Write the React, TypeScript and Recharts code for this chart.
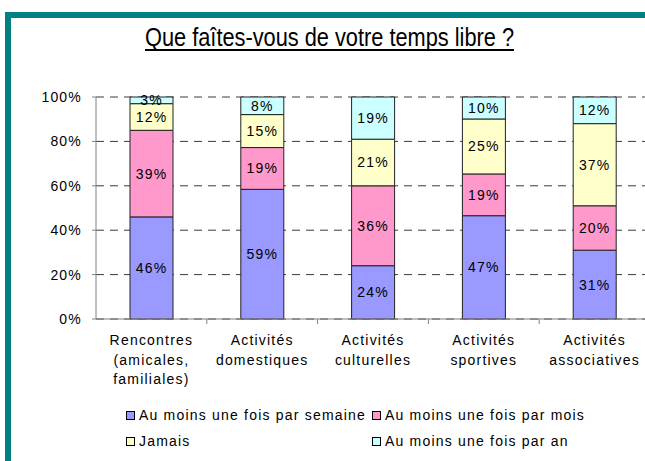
import React from 'react'
import { BarChart, Bar, XAxis, YAxis, CartesianGrid, LabelList } from 'recharts'

// Categories (line breaks as in the original axis labels)
const categories = [
  'Rencontres\n(amicales,\nfamiliales)',
  'Activités\ndomestiques',
  'Activités\nculturelles',
  'Activités\nsportives',
  'Activités\nassociatives',
]

// Values in % as printed on the bars
const semaine = [46, 59, 24, 47, 31]
const mois = [39, 19, 36, 19, 20]
const jamais = [12, 15, 21, 25, 37]
const an = [3, 8, 19, 10, 12]

const yTicks = [0, 0.2, 0.4, 0.6, 0.8, 1]

const series = [
  { key: 'semaine', name: 'Au moins une fois par semaine', color: '#9999FF' },
  { key: 'mois', name: 'Au moins une fois par mois', color: '#FF99CC' },
  { key: 'jamais', name: 'Jamais', color: '#FFFFCC' },
  { key: 'an', name: 'Au moins une fois par an', color: '#CCFFFF' },
]

const data = categories.map((name, i) => ({
  name,
  semaine: semaine[i],
  mois: mois[i],
  jamais: jamais[i],
  an: an[i],
}))

const FONT = '"Liberation Sans", Arial, sans-serif'
const TEAL = '#008080'

function CategoryTick(props: any) {
  const { x, y, payload } = props
  const half = payload?.offset || 55.4
  const lines = String(payload.value).split('\n')
  return (
    <g>
      <line x1={x + half} x2={x + half} y1={y} y2={y + 5} stroke="#808080" />
      <text
        x={x}
        y={y + 26}
        textAnchor="middle"
        fill="#000"
        fontSize={14}
        fontFamily={FONT}
        style={{ letterSpacing: '1.2px' }}
      >
        {lines.map((l, i) => (
          <tspan key={i} x={x} dy={i === 0 ? 0 : 19.5}>
            {l}
          </tspan>
        ))}
      </text>
    </g>
  )
}

export default function App() {
  return (
    <div
      style={{
        position: 'absolute',
        left: 0,
        top: 0,
        width: 645,
        height: 461,
        overflow: 'hidden',
        background: '#fff',
        fontFamily: FONT,
      }}
    >
      {/* frame */}
      <div style={{ position: 'absolute', left: 5, top: 12, width: 640, height: 6, background: TEAL }} />
      <div style={{ position: 'absolute', left: 5, top: 12, width: 6, height: 449, background: TEAL }} />

      {/* title */}
      <svg width={645} height={60} style={{ position: 'absolute', left: 0, top: 0 }}>
        <text
          x={145}
          y={46}
          fontSize={25}
          fontFamily={FONT}
          fill="#000"
          textLength={369}
          lengthAdjust="spacingAndGlyphs"
        >
          Que faîtes-vous de votre temps libre ?
        </text>
        <rect x={145} y={49} width={369} height={2} fill="#000" />
      </svg>

      <div style={{ position: 'absolute', left: 0, top: 0 }}>
        <BarChart
          width={660}
          height={461}
          data={data}
          stackOffset="expand"
          barSize={43}
          margin={{ top: 97, right: 10, left: 36, bottom: 0 }}
        >
          <CartesianGrid
            horizontal
            vertical={false}
            strokeDasharray="8 6"
            stroke="#3a3a3a"
          />
          <XAxis
            dataKey="name"
            height={142}
            interval={0}
            axisLine={{ stroke: '#808080' }}
            tickLine={false}
            tickSize={0}
            tickMargin={0}
            tick={<CategoryTick />}
          />
          <YAxis
            width={60}
            domain={[0, 1]}
            ticks={yTicks}
            tickFormatter={(v: number) => `${Math.round(v * 100)}%`}
            axisLine={{ stroke: '#808080' }}
            tickLine={{ stroke: '#808080' }}
            tickSize={4}
            tickMargin={10}
            tick={{ fill: '#000', fontSize: 14, fontFamily: FONT, style: { letterSpacing: '1.2px' } }}
          />
          {series.map((s) => (
            <Bar
              key={s.key}
              dataKey={s.key}
              name={s.name}
              stackId="a"
              fill={s.color}
              stroke="#222"
              strokeWidth={1}
              isAnimationActive={false}
            >
              <LabelList
                dataKey={s.key}
                position="center"
                formatter={(v: any) => `${v}%`}
                fill="#000"
                fontSize={14}
                fontFamily={FONT}
                style={{ letterSpacing: '1.2px' }}
              />
            </Bar>
          ))}
        </BarChart>
      </div>

      {/* legend: two columns, two rows */}
      {series.map((s, i) => {
        const col = i % 2
        const row = Math.floor(i / 2)
        return (
          <div
            key={s.key}
            style={{
              position: 'absolute',
              left: col === 0 ? 126 : 372,
              top: row === 0 ? 405 : 431,
              height: 20,
              display: 'flex',
              alignItems: 'center',
              fontSize: 14,
              letterSpacing: '1.2px',
              color: '#000',
              whiteSpace: 'nowrap',
            }}
          >
            <span
              style={{
                display: 'inline-block',
                width: 7,
                height: 7,
                border: '1px solid #000',
                background: s.color,
                marginRight: 4,
              }}
            />
            {s.name}
          </div>
        )
      })}
    </div>
  )
}
